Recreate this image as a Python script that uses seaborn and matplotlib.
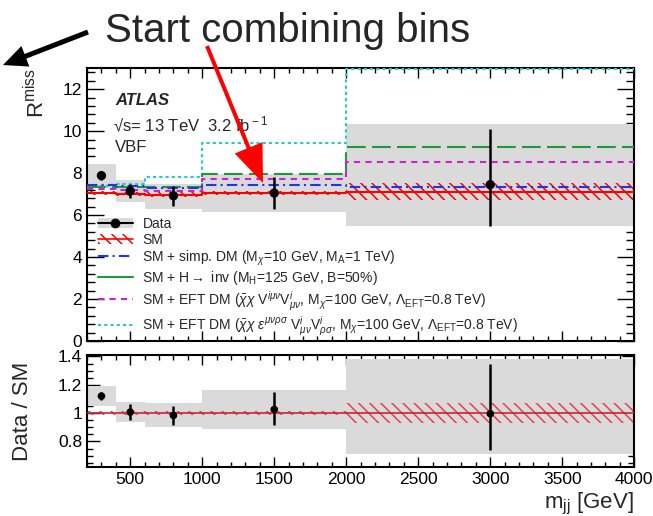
import matplotlib
matplotlib.use("Agg")
import matplotlib.pyplot as plt
import numpy as np
import seaborn as sns
from matplotlib.patches import Patch, FancyArrow
from matplotlib.lines import Line2D
from matplotlib.ticker import MultipleLocator, FuncFormatter
from matplotlib.transforms import IdentityTransform

# m_jj binning [GeV]
bin_edges = [200, 400, 600, 1000, 2000, 4000]
bin_centres = [300, 500, 800, 1500, 3000]

# upper panel: R^miss
data_r = [7.88, 7.15, 6.92, 7.05, 7.45]
data_r_lo = [0.22, 0.35, 0.47, 0.75, 1.95]
data_r_hi = [0.22, 0.35, 0.47, 0.78, 2.63]
unc_r_lo = [7.30, 6.62, 6.30, 6.15, 5.50]
unc_r_hi = [8.42, 7.68, 7.50, 7.95, 10.32]
sm_r = [7.05, 7.00, 6.98, 7.05, 7.12]
sm_r_unc = [0.10, 0.10, 0.10, 0.10, 0.40]
simp_dm = [7.42, 7.40, 7.30, 7.45, 7.32]
h_inv = [7.32, 7.36, 7.34, 7.94, 9.25]
eft_vv = [7.26, 7.18, 7.14, 7.72, 8.54]
eft_eps = [7.40, 7.48, 7.82, 9.45, 12.95]

# lower panel: Data / SM
ratio = [1.12, 1.007, 0.984, 1.026, 0.996]
ratio_lo = [0.03, 0.055, 0.065, 0.11, 0.256]
ratio_hi = [0.03, 0.055, 0.065, 0.12, 0.354]
ratio_unc_lo = [1.05, 0.935, 0.90, 0.89, 0.71]
ratio_unc_hi = [1.19, 1.08, 1.07, 1.16, 1.38]
sm_ratio = [1.0, 1.0, 1.0, 1.0, 1.0]
sm_ratio_unc = [0.012, 0.012, 0.012, 0.012, 0.07]

legend_labels = [
    "Data",
    "SM",
    r"SM + simp. DM (M$_{\chi}$=10 GeV, M$_{\rm A}$=1 TeV)",
    r"SM + H$\rightarrow$ inv (M$_{\rm H}$=125 GeV, B=50%)",
    r"SM + EFT DM ($\bar{\chi}\chi$ V$^{i\mu\nu}$V$^{i}_{\mu\nu}$, M$_{\chi}$=100 GeV, $\Lambda_{\rm EFT}$=0.8 TeV)",
    r"SM + EFT DM ($\bar{\chi}\chi$ $\epsilon^{\mu\nu\rho\sigma}$ V$^{i}_{\mu\nu}$V$^{i}_{\rho\sigma}$, M$_{\chi}$=100 GeV, $\Lambda_{\rm EFT}$=0.8 TeV)",
]

sns.set_style("ticks")
plt.rcParams["font.family"] = ["Liberation Sans", "DejaVu Sans"]
plt.rcParams["mathtext.fontset"] = "custom"
plt.rcParams["mathtext.rm"] = "Liberation Sans"
plt.rcParams["mathtext.it"] = "Liberation Sans:italic"
plt.rcParams["mathtext.bf"] = "Liberation Sans:bold"
plt.rcParams["hatch.linewidth"] = 1.1
plt.rcParams["axes.linewidth"] = 1.5

grey = "#dadada"
hatch = "\\\\\\"
widths = np.diff(bin_edges)
lefts = bin_edges[:-1]

fig = plt.figure(figsize=(6.53, 5.16), dpi=100)
ax1 = fig.add_axes([0.1333, 0.339, 0.838, 0.529])
ax2 = fig.add_axes([0.1333, 0.095, 0.838, 0.217])


def steps(ax, vals, **kw):
    sns.lineplot(x=bin_edges, y=list(vals) + [vals[-1]], drawstyle="steps-post",
                 sort=False, estimator=None, ax=ax, **kw)


# upper panel
ax1.bar(lefts, np.subtract(unc_r_hi, unc_r_lo), bottom=unc_r_lo, width=widths,
        align="edge", color=grey, lw=0, zorder=1)
ax1.bar(lefts, 2 * np.array(sm_r_unc), bottom=np.subtract(sm_r, sm_r_unc), width=widths,
        align="edge", fill=False, hatch=hatch, edgecolor="red", lw=0, zorder=2)
steps(ax1, sm_r, color="red", lw=1.5, zorder=3)
steps(ax1, eft_eps, color="#22cccc", lw=1.5, linestyle=(0, (1.5, 1.5)), zorder=3)
steps(ax1, h_inv, color="#1f9a3a", lw=1.5, linestyle=(0, (9, 3)), zorder=3)
steps(ax1, eft_vv, color="#cc22cc", lw=1.5, linestyle=(0, (3, 2.5)), zorder=3)
steps(ax1, simp_dm, color="#2233ee", lw=1.5, linestyle=(0, (5, 2, 1, 2)), zorder=3)
ax1.errorbar(bin_centres, data_r, yerr=[data_r_lo, data_r_hi], fmt="none",
             ecolor="black", elinewidth=1.8, zorder=5)
sns.scatterplot(x=bin_centres, y=data_r, color="black", s=45, edgecolor="none",
                ax=ax1, zorder=6)

ax1.set_xlim(200, 4000)
ax1.set_ylim(0, 13)
ax1.set_ylabel(r"R$^{\rm miss}$", loc="top", fontsize=16, labelpad=10)
ax1.yaxis.set_major_locator(MultipleLocator(2))
ax1.yaxis.set_minor_locator(MultipleLocator(0.4))

ax1.text(0.051, 0.883, "ATLAS", transform=ax1.transAxes, fontsize=12,
         fontweight="bold", fontstyle="italic", va="center")
ax1.text(0.048, 0.795, "\u221as= 13 TeV  3.2 fb$^{\\rm -1}$", transform=ax1.transAxes,
         fontsize=12, va="center")
ax1.text(0.051, 0.71, "VBF", transform=ax1.transAxes, fontsize=12, va="center")

handles = [
    (Patch(facecolor=grey, edgecolor="none"),
     Line2D([], [], color="black", marker="o", ms=6, lw=1.5)),
    (Patch(facecolor="none", edgecolor="red", hatch=hatch, lw=0),
     Line2D([], [], color="red", lw=1.2)),
    Line2D([], [], color="#2233ee", lw=1.5, linestyle=(0, (5, 2, 1, 2))),
    Line2D([], [], color="#1f9a3a", lw=1.5),
    Line2D([], [], color="#cc22cc", lw=1.5, linestyle=(0, (3, 2.5))),
    Line2D([], [], color="#22cccc", lw=1.5, linestyle=(0, (1.5, 1.5))),
]
ax1.legend(handles, legend_labels, loc="upper left", bbox_to_anchor=(0.02, 0.455),
           frameon=False, fontsize=10, handlelength=2.5, handletextpad=0.7,
           labelspacing=0.12, borderaxespad=0, borderpad=0)

# lower panel
ax2.bar(lefts, np.subtract(ratio_unc_hi, ratio_unc_lo), bottom=ratio_unc_lo, width=widths,
        align="edge", color=grey, lw=0, zorder=1)
ax2.bar(lefts, 2 * np.array(sm_ratio_unc), bottom=np.subtract(sm_ratio, sm_ratio_unc),
        width=widths, align="edge", fill=False, hatch=hatch, edgecolor="#e8404a", lw=0, zorder=2)
steps(ax2, sm_ratio, color="#c0283a", lw=1.2, zorder=3)
ax2.errorbar(bin_centres, ratio, yerr=[ratio_lo, ratio_hi], fmt="none",
             ecolor="black", elinewidth=1.8, zorder=5)
sns.scatterplot(x=bin_centres, y=ratio, color="black", s=30, edgecolor="none",
                ax=ax2, zorder=6)

ax2.set_xlim(200, 4000)
ax2.set_ylim(0.62, 1.41)
ax2.set_ylabel("Data / SM", fontsize=16, labelpad=18)
ax2.set_xlabel(r"m$_{\rm jj}$ [GeV]", loc="right", fontsize=16, labelpad=3)
ax2.yaxis.set_major_locator(MultipleLocator(0.2))
ax2.yaxis.set_minor_locator(MultipleLocator(0.05))
ax2.yaxis.set_major_formatter(FuncFormatter(lambda v, p: "%g" % round(v, 2)))

for ax in (ax1, ax2):
    ax.xaxis.set_major_locator(MultipleLocator(500))
    ax.xaxis.set_minor_locator(MultipleLocator(100))
    ax.tick_params(which="both", direction="in", top=True, right=True,
                   labelsize=12.5, width=1.0, colors="black")
    for s in ax.spines.values():
        s.set_color("black")
ax1.tick_params(axis="y", which="major", length=12)
ax1.tick_params(axis="y", which="minor", length=6)
ax1.tick_params(axis="x", which="major", length=7, labelbottom=False)
ax1.tick_params(axis="x", which="minor", length=3.5)
ax2.tick_params(axis="y", which="major", length=9)
ax2.tick_params(axis="y", which="minor", length=4.5)
ax2.tick_params(axis="x", which="major", length=7)
ax2.tick_params(axis="x", which="minor", length=3.5)

# slide annotations
fig.text(105 / 653, 1 - 42 / 516, "Start combining bins", fontsize=29, va="baseline")
fig.add_artist(FancyArrow(88, 484, -85, -33, width=5, head_width=22, head_length=24,
                          length_includes_head=True, color="black", lw=0,
                          transform=IdentityTransform()))
fig.add_artist(FancyArrow(207, 470, 56, -137, width=4, head_width=30, head_length=38,
                          length_includes_head=True, color="red", lw=0,
                          transform=IdentityTransform()))

fig.savefig("out.png", dpi=100)
